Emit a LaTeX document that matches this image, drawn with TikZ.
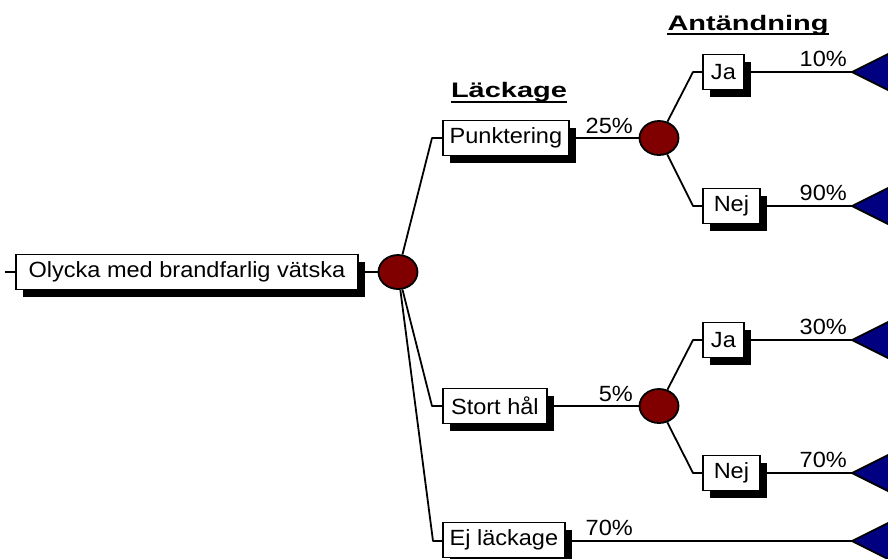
\documentclass[tikz,border=0pt]{standalone}
\usepackage{fontspec}
\setmainfont{Liberation Sans}
\newfontfamily\labelfont{Liberation Sans}[FakeStretch=1.07]
\newfontfamily\headfont{Liberation Sans Bold}[FakeStretch=1.38]
\usetikzlibrary{shadows,shapes.geometric}
\definecolor{chance}{HTML}{800000}
\definecolor{endnode}{HTML}{000080}

\begin{document}
\begin{tikzpicture}[x=1pt,y=-1pt,
  wire/.style={line width=1.8pt, line join=round},
  outcome/.style={draw, line width=1.8pt, fill=white, anchor=west,
    minimum height=35pt, inner sep=0pt,
    font=\labelfont\fontsize{22}{26}\selectfont,
    drop shadow={shadow xshift=7pt, shadow yshift=-7pt, opacity=1, fill=black}},
  chancenode/.style={draw, line width=1.8pt, fill=chance, ellipse,
    minimum width=39pt, minimum height=34pt, inner sep=0pt},
  endtri/.style={draw=black, line width=1.8pt, fill=endnode, line join=miter},
  pct/.style={anchor=base east, inner sep=0pt, font=\labelfont\fontsize{22}{26}\selectfont},
  heading/.style={anchor=base, inner sep=0pt, font=\headfont\fontsize{21}{25}\selectfont},
  uline/.style={line width=2.2pt}
]
\clip (0,0) rectangle (888,558);

% headings
\node[heading] (hL) at (509,97) {Läckage};
\draw[uline] (hL.west |- 0,102) -- (hL.east |- 0,102);
\node[heading] (hA) at (748,30) {Antändning};
\draw[uline] (hA.west |- 0,34) -- (hA.east |- 0,34);

% decision boxes
\node[outcome, minimum width=342pt] (main) at (15,272) {Olycka med brandfarlig vätska};
\node[outcome, minimum width=126pt] (punk) at (442,138) {Punktering};
\node[outcome, minimum width=104pt] (stort) at (442,406) {Stort hål};
\node[outcome, minimum width=122pt] (ej) at (442,540) {Ej läckage};
\node[outcome, minimum width=41pt] (ja1) at (702,72) {Ja};
\node[outcome, minimum width=57pt] (nej1) at (702,206) {Nej};
\node[outcome, minimum width=41pt] (ja2) at (702,340) {Ja};
\node[outcome, minimum width=57pt] (nej2) at (702,473) {Nej};

% chance nodes
\node[chancenode] (c0) at (398,272) {};
\node[chancenode] (c1) at (659,138) {};
\node[chancenode] (c2) at (659,406) {};

% bends and end points
\coordinate (stub) at (5,272);
\coordinate (b1) at (432,138);
\coordinate (b2) at (432,406);
\coordinate (b3) at (433,541);
\coordinate (b4) at (693,72);
\coordinate (b5) at (693,206);
\coordinate (b6) at (693,340);
\coordinate (b7) at (693,473);
\coordinate (t1) at (852,72);
\coordinate (t2) at (852,206);
\coordinate (t3) at (852,340);
\coordinate (t4) at (852,473);
\coordinate (t5) at (852,541);

% connectors
\draw[wire] (stub) -- (main.west);
\draw[wire] (main.east) -- (c0);
\draw[wire] (c0) -- (b1) -- (punk.west);
\draw[wire] (c0) -- (b2) -- (stort.west);
\draw[wire] (c0) -- (b3) -- (ej.west |- b3);
\draw[wire] (punk.east) -- (c1);
\draw[wire] (stort.east) -- (c2);
\draw[wire] (ej.east |- b3) -- (t5);
\draw[wire] (c1) -- (b4) -- (ja1.west);
\draw[wire] (c1) -- (b5) -- (nej1.west);
\draw[wire] (c2) -- (b6) -- (ja2.west);
\draw[wire] (c2) -- (b7) -- (nej2.west);
\draw[wire] (ja1.east) -- (t1);
\draw[wire] (nej1.east) -- (t2);
\draw[wire] (ja2.east) -- (t3);
\draw[wire] (nej2.east) -- (t4);

% terminal nodes
\foreach \t in {t1,t2,t3,t4,t5}
  \filldraw[endtri] (\t) -- ++(48,-24) -- ++(0,48) -- cycle;

% probabilities
\node[pct] (p1) at (633,133) {25\%};
\node[pct] (p2) at (633,401) {5\%};
\node[pct] (p3) at (633,535) {70\%};
\node[pct] (p4) at (847,66) {10\%};
\node[pct] (p5) at (847,200) {90\%};
\node[pct] (p6) at (847,334) {30\%};
\node[pct] (p7) at (847,467) {70\%};
\end{tikzpicture}
\end{document}
